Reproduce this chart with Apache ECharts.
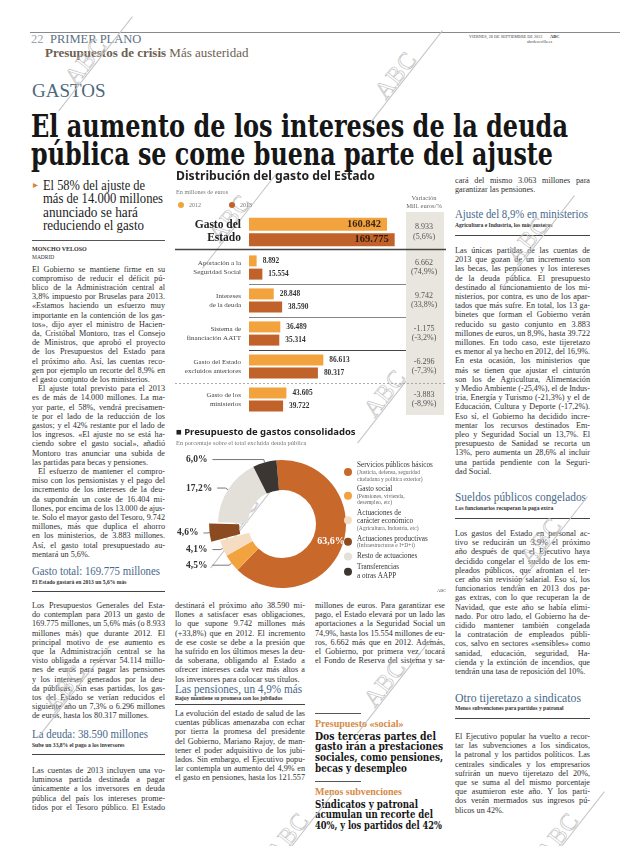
<!DOCTYPE html>
<html><head><meta charset="utf-8">
<script src="https://cdn.jsdelivr.net/npm/echarts@6/dist/echarts.min.js"></script>
<style>
html,body{margin:0;padding:0;background:#fff;}
#page{position:relative;width:620px;height:846px;overflow:hidden;background:#fff;font-family:'Liberation Serif','DejaVu Serif',serif;color:#2a2a2a;}
#chart{position:absolute;left:0;top:0;width:620px;height:846px;z-index:2;}
.wm{position:absolute;width:120px;height:30px;transform:rotate(-52deg);z-index:1;pointer-events:none;}
.wm span{position:absolute;left:30px;top:2px;font:24px 'Liberation Serif',serif;color:transparent;-webkit-text-stroke:0.6px #bdbdbd;letter-spacing:1px;}
.wm i{position:absolute;left:0;top:24px;width:120px;border-top:0.7px solid #c4c4c4;}
</style></head>
<body><div id="page"><div id="chart"></div></div>
<script>
// ---------------- chart data ----------------
const barCategories = ['Aportación a la\nSeguridad Social','Intereses\nde la deuda','Sistema de\nfinanciación AATT','Gasto del Estado\nexcluidos anteriores','Gasto de los\nministerios'];
const mainCategory = ['Gasto del\nEstado'];
const main2012 = [160842];
const main2013 = [169775];
const rows2012 = [8892, 28848, 36489, 86613, 43605];
const rows2013 = [15554, 38590, 35314, 80317, 39722];
const mainVariation = ['8.933\n(5,6%)'];
const rowVariation = ['6.662\n(74,9%)','9.742\n(33,8%)','-1.175\n(-3,2%)','-6.296\n(-7,3%)','-3.883\n(-8,9%)'];
const pieNames = ['Servicios públicos básicos','Gasto social','Actuaciones de carácter económico','Actuaciones productivas','Resto de actuaciones','Transferencias a otras AAPP'];
const pieValues = [63.6, 4.5, 4.1, 4.6, 17.2, 6.0];
const pieNotes = ['(Justicia, defensa, seguridad\nciudadana y política exterior)','(Pensiones, vivienda,\ndesempleo, etc)','(Agricultura, Industria, etc)','(Infraestructuras e I+D+i)','',''];
const pieLegendTitles = ['Servicios públicos básicos','Gasto social','Actuaciones de\ncarácter económico','Actuaciones productivas','Resto de actuaciones','Transferencias\na otras AAPP'];

// ---------------- page text ----------------
const page = document.getElementById('page');
function put(x, yc, w, txt, css, mode){
  const d = document.createElement('div');
  d.style.cssText = 'position:absolute;white-space:nowrap;left:'+x+'px;top:'+(yc-12)+'px;height:24px;line-height:24px;'+(css||'');
  const s = document.createElement('span');
  s.textContent = txt; s.style.display = 'inline-block';
  d.appendChild(s); page.appendChild(d);
  const nat = s.getBoundingClientRect().width;
  if (w && (nat > w || mode === 'fit')) { s.style.transformOrigin = '0 50%'; s.style.transform = 'scaleX(' + (w/nat) + ')'; }
  else if (w && mode === 'justify') { const n = (txt.match(/ /g)||[]).length; if (n) s.style.wordSpacing = ((w-nat)/n) + 'px'; }
  return d;
}
function body(x, y0, w, pitch, lines){
  const css = 'font-size:8.2px;color:#303030;';
  lines.forEach((t,i)=>{
    let xx = x, ww = w, mode = 'justify';
    if (t[0] === '>') { t = t.slice(1); xx += 6; ww -= 6; }
    if (t.endsWith('|')) { t = t.slice(0,-1); mode = 'left'; }
    put(xx, y0 + i*pitch, ww, t, css, mode);
  });
}
function rule(x, y, w, c, h){
  const d = document.createElement('div');
  d.style.cssText = 'position:absolute;left:'+x+'px;top:'+y+'px;width:'+w+'px;height:0;border-top:'+(h||1)+'px solid '+(c||'#333')+';';
  page.appendChild(d);
}
function head(x, yc, w, cw, txt, sub, subY, ruleY){
  put(x, yc, w, txt, 'font-size:13px;color:#48688a;', 'fit');
  put(x, subY, 0, sub, 'font-size:5.6px;color:#333;font-weight:bold;');
  rule(x, ruleY, cw, '#444', 1);
}
const HB = "font-family:'DejaVu Serif','Liberation Serif',serif;font-stretch:condensed;font-weight:bold;color:#161616;";

// header
rule(30, 32, 590, '#8a8a8a', 1);
put(31, 39, 0, '22', 'font-size:12.5px;color:#9aa6b0;');
put(50, 39, 0, 'PRIMER PLANO', 'font-size:12.5px;color:#5d7183;');
const ps = put(45, 53, 0, '', 'font-size:13px;color:#6d6050;');
ps.firstChild.innerHTML = '<b>Presupuestos de crisis</b> Más austeridad';
put(469, 37, 0, 'VIERNES, 28 DE SEPTIEMBRE DE 2012', 'font-size:4.2px;color:#444;');
put(550, 37, 0, 'ABC', 'font-size:4.5px;color:#333;font-weight:bold;');
put(527, 42, 0, 'abcdesevilla.es', 'font-size:4.2px;color:#444;');
put(32, 91, 0, 'GASTOS', 'font-size:19px;color:#4f687c;');
put(31, 126, 537, 'El aumento de los intereses de la deuda', 'font-size:31px;' + HB, 'fit');
put(31, 154, 522, 'pública se come buena parte del ajuste', 'font-size:31px;' + HB, 'fit');

// deck
put(33, 185, 0, '▸', 'font-size:10px;color:#d9843a;');
[['El 58% del ajuste de',102],['más de 14.000 millones',120],['anunciado se hará',95],['reduciendo el gasto',101]].forEach((a,i)=>{
  put(43, 185 + i*13.3, a[1], a[0], 'font-size:14.5px;color:#222;', 'fit');
});
rule(32, 240, 133, '#555', 1);
put(32, 249, 0, 'MONCHO VELOSO', 'font-size:6px;font-weight:bold;color:#333;');
put(32, 256.5, 0, 'MADRID', 'font-size:5.5px;color:#333;');

body(32, 269.5, 133, 9.2, [
'El Gobierno se mantiene firme en su','compromiso de reducir el déficit pú-','blico de la Administración central al','3,8% impuesto por Bruselas para 2013.','«Estamos haciendo un esfuerzo muy','importante en la contención de los gas-','tos», dijo ayer el ministro de Hacien-','da, Cristóbal Montoro, tras el Consejo','de Ministros, que aprobó el proyecto','de los Presupuestos del Estado para','el próximo año. Así, las cuentas reco-','gen por ejemplo un recorte del 8,9% en','el gasto conjunto de los ministerios.|',
'>El ajuste total previsto para el 2013','es de más de 14.000 millones. La ma-','yor parte, el 58%, vendrá precisamen-','te por el lado de la reducción de los','gastos; y el 42% restante por el lado de','los ingresos. «El ajuste no se está ha-','ciendo sobre el gasto social», añadió','Montoro tras anunciar una subida de','las partidas para becas y pensiones.|',
'>El esfuerzo de mantener el compro-','miso con los pensionistas y el pago del','incremento de los intereses de la deu-','da supondrán un coste de 16.404 mi-','llones, por encima de los 13.000 de ajus-','te. Solo el mayor gasto del Tesoro, 9.742','millones, más que duplica el ahorro','en los ministerios, de 3.883 millones.','Así, el gasto total presupuestado au-','mentará un 5,6%.|']);
head(32, 571, 128, 133, 'Gasto total: 169.775 millones', 'El Estado gastará en 2013 un 5,6% más', 581.5, 591);

body(32, 606, 133, 9.2, [
'Los Presupuestos Generales del Esta-','do contemplan para 2013 un gasto de','169.775 millones, un 5,6% más (o 8.933','millones más) que durante 2012. El','principal motivo de ese aumento es','que la Administración central se ha','visto obligada a reservar 54.114 millo-','nes de euros para pagar las pensiones','y los intereses generados por la deu-','da públicas. Sin esas partidas, los gas-','tos del Estado se verían reducidos el','siguiente año un 7,3% o 6.296 millones','de euros, hasta los 80.317 millones.|']);
head(32, 734, 116, 133, 'La deuda: 38.590 millones', 'Sube un 33,8% el pago a los inversores', 744.5, 754);
body(32, 771, 133, 9.2, ['Las cuentas de 2013 incluyen una vo-','luminosa partida destinada a pagar','únicamente a los inversores en deuda','pública del país los intereses prome-','tidos por el Tesoro público. El Estado']);

body(175, 606, 130, 9.2, ['destinará el próximo año 38.590 mi-','llones a satisfacer esas obligaciones,','lo que supone 9.742 millones más','(+33,8%) que en 2012. El incremento','de ese coste se debe a la presión que','ha sufrido en los últimos meses la deu-','da soberana, obligando al Estado a','ofrecer intereses cada vez más altos a','los inversores para colocar sus títulos.|']);
head(175, 689, 127, 130, 'Las pensiones, un 4,9% más', 'Rajoy mantiene su promesa con los jubilados', 697.5, 703.5);
body(175, 714, 130, 9.2, ['La evolución del estado de salud de las','cuentas públicas amenazaba con echar','por tierra la promesa del presidente','del Gobierno, Mariano Rajoy, de man-','tener el poder adquisitivo de los jubi-','lados. Sin embargo, el Ejecutivo popu-','lar contempla un aumento del 4,9% en','el gasto en pensiones, hasta los 121.557']);

body(315, 606, 130, 9.2, ['millones de euros. Para garantizar ese','pago, el Estado elevará por un lado las','aportaciones a la Seguridad Social un','74,9%, hasta los 15.554 millones de eu-','ros, 6.662 más que en 2012. Además,','el Gobierno, por primera vez, tocará','el Fondo de Reserva del sistema y sa-']);
rule(315, 713, 46, '#555', 1);
put(315, 724, 0, 'Presupuesto «social»', 'font-size:10px;font-weight:bold;color:#d68a45;');
[['Dos terceras partes del',121],['gasto irán a prestaciones',128],['sociales, como pensiones,',128],['becas y desempleo',92]].forEach((a,i)=>put(315, 735.5 + i*10.7, a[1], a[0], 'font-size:11.5px;' + HB, 'fit'));
rule(315, 781, 46, '#555', 1);
put(315, 792, 0, 'Menos subvenciones', 'font-size:10px;font-weight:bold;color:#d68a45;');
[['Sindicatos y patronal',103],['acumulan un recorte del',118],['40%, y los partidos del 42%',127]].forEach((a,i)=>put(315, 803.5 + i*10.7, a[1], a[0], 'font-size:11.5px;' + HB, 'fit'));

body(455, 181, 135, 9.2, ['cará del mismo 3.063 millones para','garantizar las pensiones.|']);
head(455, 214, 133, 135, 'Ajuste del 8,9% en ministerios', 'Agricultura e Industria, los más austeros', 225, 235);
body(455, 251, 135, 9.2, ['Las únicas partidas de las cuentas de','2013 que gozan de un incremento son','las becas, las pensiones y los intereses','de la deuda pública. El presupuesto','destinado al funcionamiento de los mi-','nisterios, por contra, es uno de los apar-','tados que más sufre. En total, los 13 ga-','binetes que forman el Gobierno verán','reducido su gasto conjunto en 3.883','millones de euros, un 8,9%, hasta 39.722','millones. En todo caso, este tijeretazo','es menor al ya hecho en 2012, del 16,9%.','En esta ocasión, los ministerios que','más se tienen que ajustar el cinturón','son los de Agricultura, Alimentación','y Medio Ambiente (-25,4%), el de Indus-','tria, Energía y Turismo (-21,3%) y el de','Educación, Cultura y Deporte (-17,2%).','Eso sí, el Gobierno ha decidido incre-','mentar los recursos destinados Em-','pleo y Seguridad Social un 13,7%. El','presupuesto de Sanidad se recorta un','13%, pero aumenta un 28,6% al incluir','una partida pendiente con la Seguri-','dad Social.|']);
head(455, 497, 131, 135, 'Sueldos públicos congelados', 'Los funcionarios recuperan la paga extra', 508, 517.5);
body(455, 534, 135, 9.2, ['Los gastos del Estado en personal ac-','tivo se reducirán un 3,9% el próximo','año después de que el Ejecutivo haya','decidido congelar el sueldo de los em-','pleados públicos, que afrontan el ter-','cer año sin revisión salarial. Eso sí, los','funcionarios tendrán en 2013 dos pa-','gas extras, con lo que recuperan la de','Navidad, que este año se había elimi-','nado. Por otro lado, el Gobierno ha de-','cidido mantener también congelada','la contratación de empleados públi-','cos, salvo en sectores «sensibles» como','sanidad, educación, seguridad, Ha-','cienda y la extinción de incendios, que','tendrán una tasa de reposición del 10%.|']);
head(455, 698, 126, 135, 'Otro tijeretazo a sindicatos', 'Menos subvenciones para partidos y patronal', 708, 717.5);
body(455, 737, 135, 9.2, ['El Ejecutivo popular ha vuelto a recor-','tar las subvenciones a los sindicatos,','la patronal y los partidos políticos. Las','centrales sindicales y los empresarios','sufrirán un nuevo tijeretazo del 20%,','que se suma al del mismo porcentaje','que asumieron este año. Y los parti-','dos verán mermados sus ingresos pú-','blicos un 42%.|']);

// watermarks
[[88,58],[398,72],[232,215],[530,237],[387,390],[240,515],[67,685],[387,680],[543,538],[290,833],[560,833]].forEach(p=>{
  const d = document.createElement('div'); d.className = 'wm';
  d.style.left = (p[0]-60)+'px'; d.style.top = (p[1]-15)+'px';
  d.innerHTML = '<i></i><span>ABC</span>';
  page.appendChild(d);
});

// ---------------- chart ----------------
const fmt = v => String(v).replace(/\B(?=(\d{3})+(?!\d))/g, '.');
const C12 = '#f3a33e', C13 = '#c0622a';
const pieColors = ['#c8692b', '#f2a23e', '#f6ddc2', '#8b4a1f', '#e3e0da', '#3b3632'];
const gL = 249, gW = 171.6, g2Top = 251, g2H = 165;
const chart = echarts.init(document.getElementById('chart'), null, {renderer:'canvas'});
const serif = "'Liberation Serif', serif";
const sans = "'Noto Sans', 'Open Sans', sans-serif";
const catAxis = (grid, data, pos, lbl) => ({type:'category', gridIndex:grid, data:data, inverse:true, position:pos,
  axisLine:{show:false}, axisTick:{show:false}, splitLine:{show:false}, axisLabel:lbl});
const rowLines = [];
for (let k = 1; k < barCategories.length; k++) {
  const y = Math.round(g2Top + k*g2H/barCategories.length) + 0.5;
  const full = (k === 4);
  rowLines.push({type:'line', shape:{x1: full?175:gL, y1:y, x2: full?446:406, y2:y},
    style:{stroke: full?'#9a9a9a':(k===3?'#444':'#666'), lineWidth: k===3?1.1:0.8, lineDash: full?[2,2]:null}, z:5});
}
const legendRich = {a:{fontFamily:serif, fontSize:7.2, color:'#333', lineHeight:8.3}, b:{fontFamily:serif, fontSize:5.6, color:'#666', lineHeight:6.4}};
chart.setOption({
  backgroundColor:'transparent',
  animation:false,
  title:[
    {text:'Distribución del gasto del Estado', left:176, top:171, padding:0, itemGap:6,
     textStyle:{fontFamily:sans, fontWeight:'bold', fontSize:12.2, color:'#222'},
     subtext:'En millones de euros', subtextStyle:{fontFamily:serif, fontSize:6.2, color:'#777'}},
    {text:'■ Presupuesto de gastos consolidados', left:176, top:427, padding:0, itemGap:3,
     textStyle:{fontFamily:sans, fontWeight:'bold', fontSize:9.5, color:'#222'},
     subtext:'En porcentaje sobre el total excluida deuda pública', subtextStyle:{fontFamily:serif, fontSize:6.4, color:'#777'}}
  ],
  legend:[
    {data:['2012','2013'], left:178, top:202, padding:0, itemWidth:6, itemHeight:6, itemGap:28, icon:'circle',
     textStyle:{fontFamily:serif, fontSize:6, color:'#777'}},
    {data:pieNames, left:344, top:462, padding:0, orient:'vertical', icon:'circle', itemWidth:8, itemHeight:8, itemGap:3.5,
     formatter: n => { const i = pieNames.indexOf(n); return '{a|' + pieLegendTitles[i].split('\n').join('}\n{a|') + '}' + (pieNotes[i] ? '\n{b|' + pieNotes[i].split('\n').join('}\n{b|') + '}' : ''); },
     textStyle:{rich:legendRich, padding:[0,0,0,0]}}
  ],
  grid:[
    {left:gL, width:gW, top:216, height:32},
    {left:gL, width:gW, top:g2Top, height:g2H}
  ],
  xAxis:[
    {type:'value', gridIndex:0, min:0, max:200000, show:false},
    {type:'value', gridIndex:1, min:0, max:200000, show:false}
  ],
  yAxis:[
    catAxis(0, mainCategory, 'left', {fontFamily:serif, fontWeight:'bold', fontSize:11.5, color:'#222', lineHeight:13, margin:8, align:'right'}),
    catAxis(1, barCategories, 'left', {fontFamily:serif, fontSize:7, color:'#444', lineHeight:8.5, margin:8, align:'right'}),
    catAxis(0, mainVariation, 'right', {fontFamily:serif, fontSize:8, color:'#555', lineHeight:9.5, margin:3.5, align:'center'}),
    catAxis(1, rowVariation, 'right', {fontFamily:serif, fontSize:8, color:'#555', lineHeight:9.5, margin:3.5, align:'center'})
  ],
  series:[
    {name:'2012', type:'bar', xAxisIndex:0, yAxisIndex:0, data:main2012, barWidth:13, barGap:'18%', itemStyle:{color:C12},
     label:{show:true, position:'insideRight', distance:6, formatter:p=>fmt(p.value), fontFamily:serif, fontWeight:'bold', fontSize:10.5, color:'#3a2614'}},
    {name:'2013', type:'bar', xAxisIndex:0, yAxisIndex:0, data:main2013, barWidth:13, barGap:'18%', itemStyle:{color:C13},
     label:{show:true, position:'insideRight', distance:6, formatter:p=>fmt(p.value), fontFamily:serif, fontWeight:'bold', fontSize:10.5, color:'#2e1a0c'}},
    {name:'2012', type:'bar', xAxisIndex:1, yAxisIndex:1, data:rows2012, barWidth:11, barGap:'20%', itemStyle:{color:C12},
     label:{show:true, position:'right', distance:6, formatter:p=>fmt(p.value), fontFamily:serif, fontWeight:'bold', fontSize:7.4, color:'#333'}},
    {name:'2013', type:'bar', xAxisIndex:1, yAxisIndex:1, data:rows2013, barWidth:11, barGap:'20%', itemStyle:{color:C13},
     label:{show:true, position:'right', distance:6, formatter:p=>fmt(p.value), fontFamily:serif, fontWeight:'bold', fontSize:7.4, color:'#333'}},
    {name:'Presupuesto', type:'pie', center:[282,524], radius:[34,64], startAngle:95, clockwise:true,
     selectedMode:'multiple', selectedOffset:9, avoidLabelOverlap:true,
     data: pieNames.map((n,i)=>({name:n, value:pieValues[i], selected: i===3,
        itemStyle:{color:pieColors[i]},
        label: i===0 ? {position:'inside', color:'#fff', fontSize:10, fontWeight:'bold', width:null} : undefined,
        labelLine: i===0 ? {show:false} : undefined})),
     label:{show:true, position:'outside', alignTo:'edge', edgeDistance:186, width:28, overflow:'none',
       formatter:p=>p.value.toFixed(1).replace('.',',')+'%',
       fontFamily:serif, fontWeight:'bold', fontSize:9.5, color:'#333'},
     labelLine:{show:true, length:3, length2:10, lineStyle:{color:'#555', width:0.8}},
     emphasis:{disabled:true}}
  ],
  graphic:[
    {type:'rect', shape:{x:406, y:212, width:38, height:203}, style:{fill:'#e9e6df'}, z:-1},
    {type:'text', x:424, y:194, style:{text:'Variación\nMill. euros/%', textAlign:'center', fontFamily:serif, fontSize:6.5, lineHeight:8, fill:'#666'}, z:5},
    {type:'line', shape:{x1:175, y1:249.5, x2:446, y2:249.5}, style:{stroke:'#444', lineWidth:1.4}, z:5},
    ...rowLines,
    {type:'text', x:437, y:588, style:{text:'ABC', fontFamily:serif, fontSize:4.5, fill:'#555'}, z:5}
  ]
});
</script></body></html>
